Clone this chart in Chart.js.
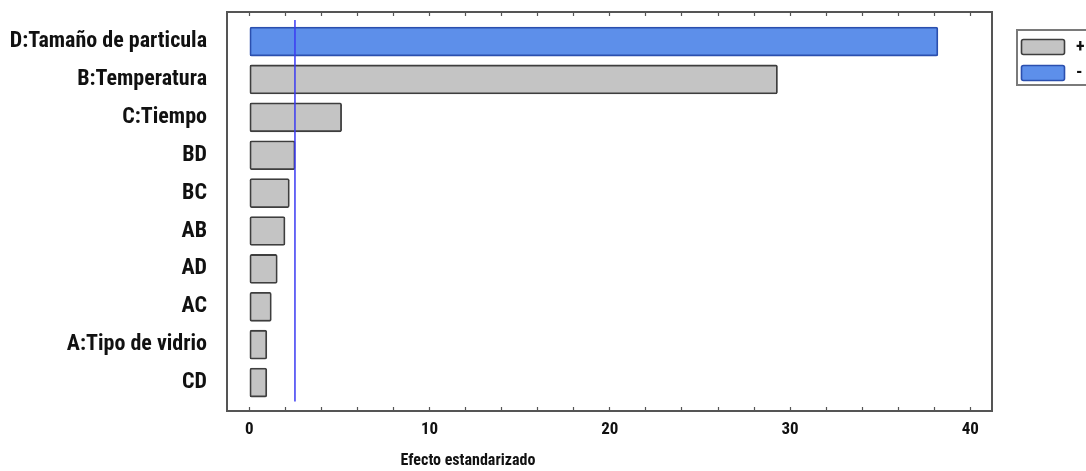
<!DOCTYPE html>
<html>
<head>
<meta charset="utf-8">
<title>Diagrama de Pareto estandarizado</title>
<script src="https://cdn.jsdelivr.net/npm/chart.js@4/dist/chart.umd.min.js"></script>
<style>
  html, body { margin: 0; padding: 0; background: #ffffff; }
  canvas { display: block; }
</style>
</head>
<body>
<canvas id="pareto" width="1086" height="471"></canvas>
<script>
// Factors and interactions, largest standardized effect first
const categories = ["D:Tamaño de particula", "B:Temperatura", "C:Tiempo", "BD", "BC", "AB", "AD", "AC", "A:Tipo de vidrio", "CD"];
const effects = [38.2, 29.3, 5.12, 2.54, 2.22, 1.98, 1.55, 1.22, 0.97, 0.97];
const effectSigns = ["-", "+", "+", "+", "+", "+", "+", "+", "+", "+"];
// Significance threshold drawn as a vertical reference line
const criticalEffect = 2.53;
const xTickValues = [0, 2, 4, 6, 8, 10, 12, 14, 16, 18, 20, 22, 24, 26, 28, 30, 32, 34, 36, 38, 40];
const xTickLabels = ["0", "10", "20", "30", "40"];
const seriesLabels = ["+", "-"];
const xAxisTitle = "Efecto estandarizado";

const FONT = "'Roboto Condensed', 'Liberation Sans', Arial, sans-serif";
const FRAME = "#555555";

function pointsFor(sign) {
  const pts = [];
  categories.forEach((c, i) => {
    if (effectSigns[i] === sign) pts.push({ x: effects[i], y: i });
  });
  return pts;
}

// Small framed legend at the right edge, plus the x-axis caption
const boxedLegend = {
  id: "boxedLegend",
  afterDraw(chart) {
    const ctx = chart.ctx;
    const bars = chart.data.datasets.filter(d => d.type !== "line");
    ctx.save();
    ctx.fillStyle = "#ffffff";
    ctx.fillRect(1017, 30, 80, 55);
    ctx.strokeStyle = "#7a7a7a";
    ctx.lineWidth = 2;
    ctx.strokeRect(1017, 30, 90, 55);
    bars.forEach((ds, k) => {
      const y = 39 + k * 26;
      ctx.fillStyle = ds.backgroundColor;
      ctx.strokeStyle = ds.borderColor;
      ctx.lineWidth = 1.6;
      ctx.beginPath();
      ctx.roundRect(1021.5, y + 0.5, 43, 15, 2);
      ctx.fill();
      ctx.stroke();
      ctx.fillStyle = "#111111";
      ctx.font = "bold 18px " + FONT;
      ctx.textAlign = "left";
      ctx.textBaseline = "middle";
      ctx.fillText(ds.label, 1076, y + 8);
    });
    // caption below the effect axis
    ctx.fillStyle = "#111111";
    ctx.font = "bold 16px " + FONT;
    ctx.textAlign = "center";
    ctx.textBaseline = "middle";
    ctx.fillText(xAxisTitle, 468, 461);
    ctx.restore();
  }
};

const tickFont = { family: FONT, size: 17, weight: "bold" };

new Chart(document.getElementById("pareto"), {
  type: "bar",
  data: {
    datasets: [
      {
        type: "line",
        label: "ref",
        data: [{ x: criticalEffect, y: -0.57 }, { x: criticalEffect, y: 9.5 }],
        borderColor: "#3b3bf2",
        borderWidth: 1.5,
        pointRadius: 0,
        fill: false,
        order: 0
      },
      {
        label: seriesLabels[0],
        data: pointsFor("+"),
        backgroundColor: "#c4c4c4",
        borderColor: "#3e3e3e",
        borderWidth: 1.8,
        borderRadius: 2,
        borderSkipped: false,
        barThickness: 29,
        grouped: false,
        order: 1
      },
      {
        label: seriesLabels[1],
        data: pointsFor("-"),
        backgroundColor: "#5d8fea",
        borderColor: "#2b4fae",
        borderWidth: 1.8,
        borderRadius: 2,
        borderSkipped: false,
        barThickness: 29,
        grouped: false,
        order: 1
      }
    ]
  },
  options: {
    indexAxis: "y",
    responsive: false,
    devicePixelRatio: 1,
    animation: false,
    layout: { padding: 0 },
    plugins: {
      legend: { display: false },
      tooltip: { enabled: false }
    },
    scales: {
      x: {
        type: "linear",
        position: "bottom",
        offset: false,
        min: -1.24,
        max: 41.2,
        afterFit(s) { s.height = 60; s.paddingLeft = 0; s.paddingRight = 0; },
        afterBuildTicks(s) { s.ticks = xTickValues.map(v => ({ value: v })); },
        border: { display: true, color: FRAME, width: 2 },
        grid: { drawOnChartArea: false, drawTicks: true, tickLength: -4, color: FRAME, tickWidth: 1.2 },
        ticks: {
          autoSkip: false,
          maxRotation: 0,
          padding: 13,
          color: "#111111",
          font: tickFont,
          callback(v) {
            const s = String(v);
            return xTickLabels.includes(s) ? s : "";
          }
        }
      },
      xTop: {
        type: "linear",
        position: "top",
        offset: false,
        min: -1.24,
        max: 41.2,
        afterFit(s) { s.height = 12; s.paddingLeft = 0; s.paddingRight = 0; },
        afterBuildTicks(s) { s.ticks = xTickValues.map(v => ({ value: v })); },
        border: { display: true, color: FRAME, width: 2 },
        grid: { drawOnChartArea: false, drawTicks: true, tickLength: -4, color: FRAME, tickWidth: 1.2 },
        ticks: { display: false }
      },
      y: {
        type: "linear",
        position: "left",
        offset: false,
        reverse: true,
        min: -0.78,
        max: 9.75,
        afterFit(s) { s.width = 227; s.paddingTop = 0; s.paddingBottom = 0; },
        afterBuildTicks(s) { s.ticks = categories.map((c, i) => ({ value: i })); },
        border: { display: true, color: FRAME, width: 2 },
        grid: { drawOnChartArea: false, drawTicks: false },
        ticks: {
          autoSkip: false,
          padding: 20,
          color: "#111111",
          font: { family: FONT, size: 22, weight: "bold" },
          callback(v) { return categories[v] ?? ""; }
        }
      },
      yRight: {
        type: "linear",
        position: "right",
        offset: false,
        min: -0.78,
        max: 9.75,
        afterFit(s) { s.width = 94; s.paddingTop = 0; s.paddingBottom = 0; },
        border: { display: true, color: FRAME, width: 2 },
        grid: { drawOnChartArea: false, drawTicks: false },
        ticks: { display: false }
      }
    }
  },
  plugins: [boxedLegend]
});
</script>
</body>
</html>
